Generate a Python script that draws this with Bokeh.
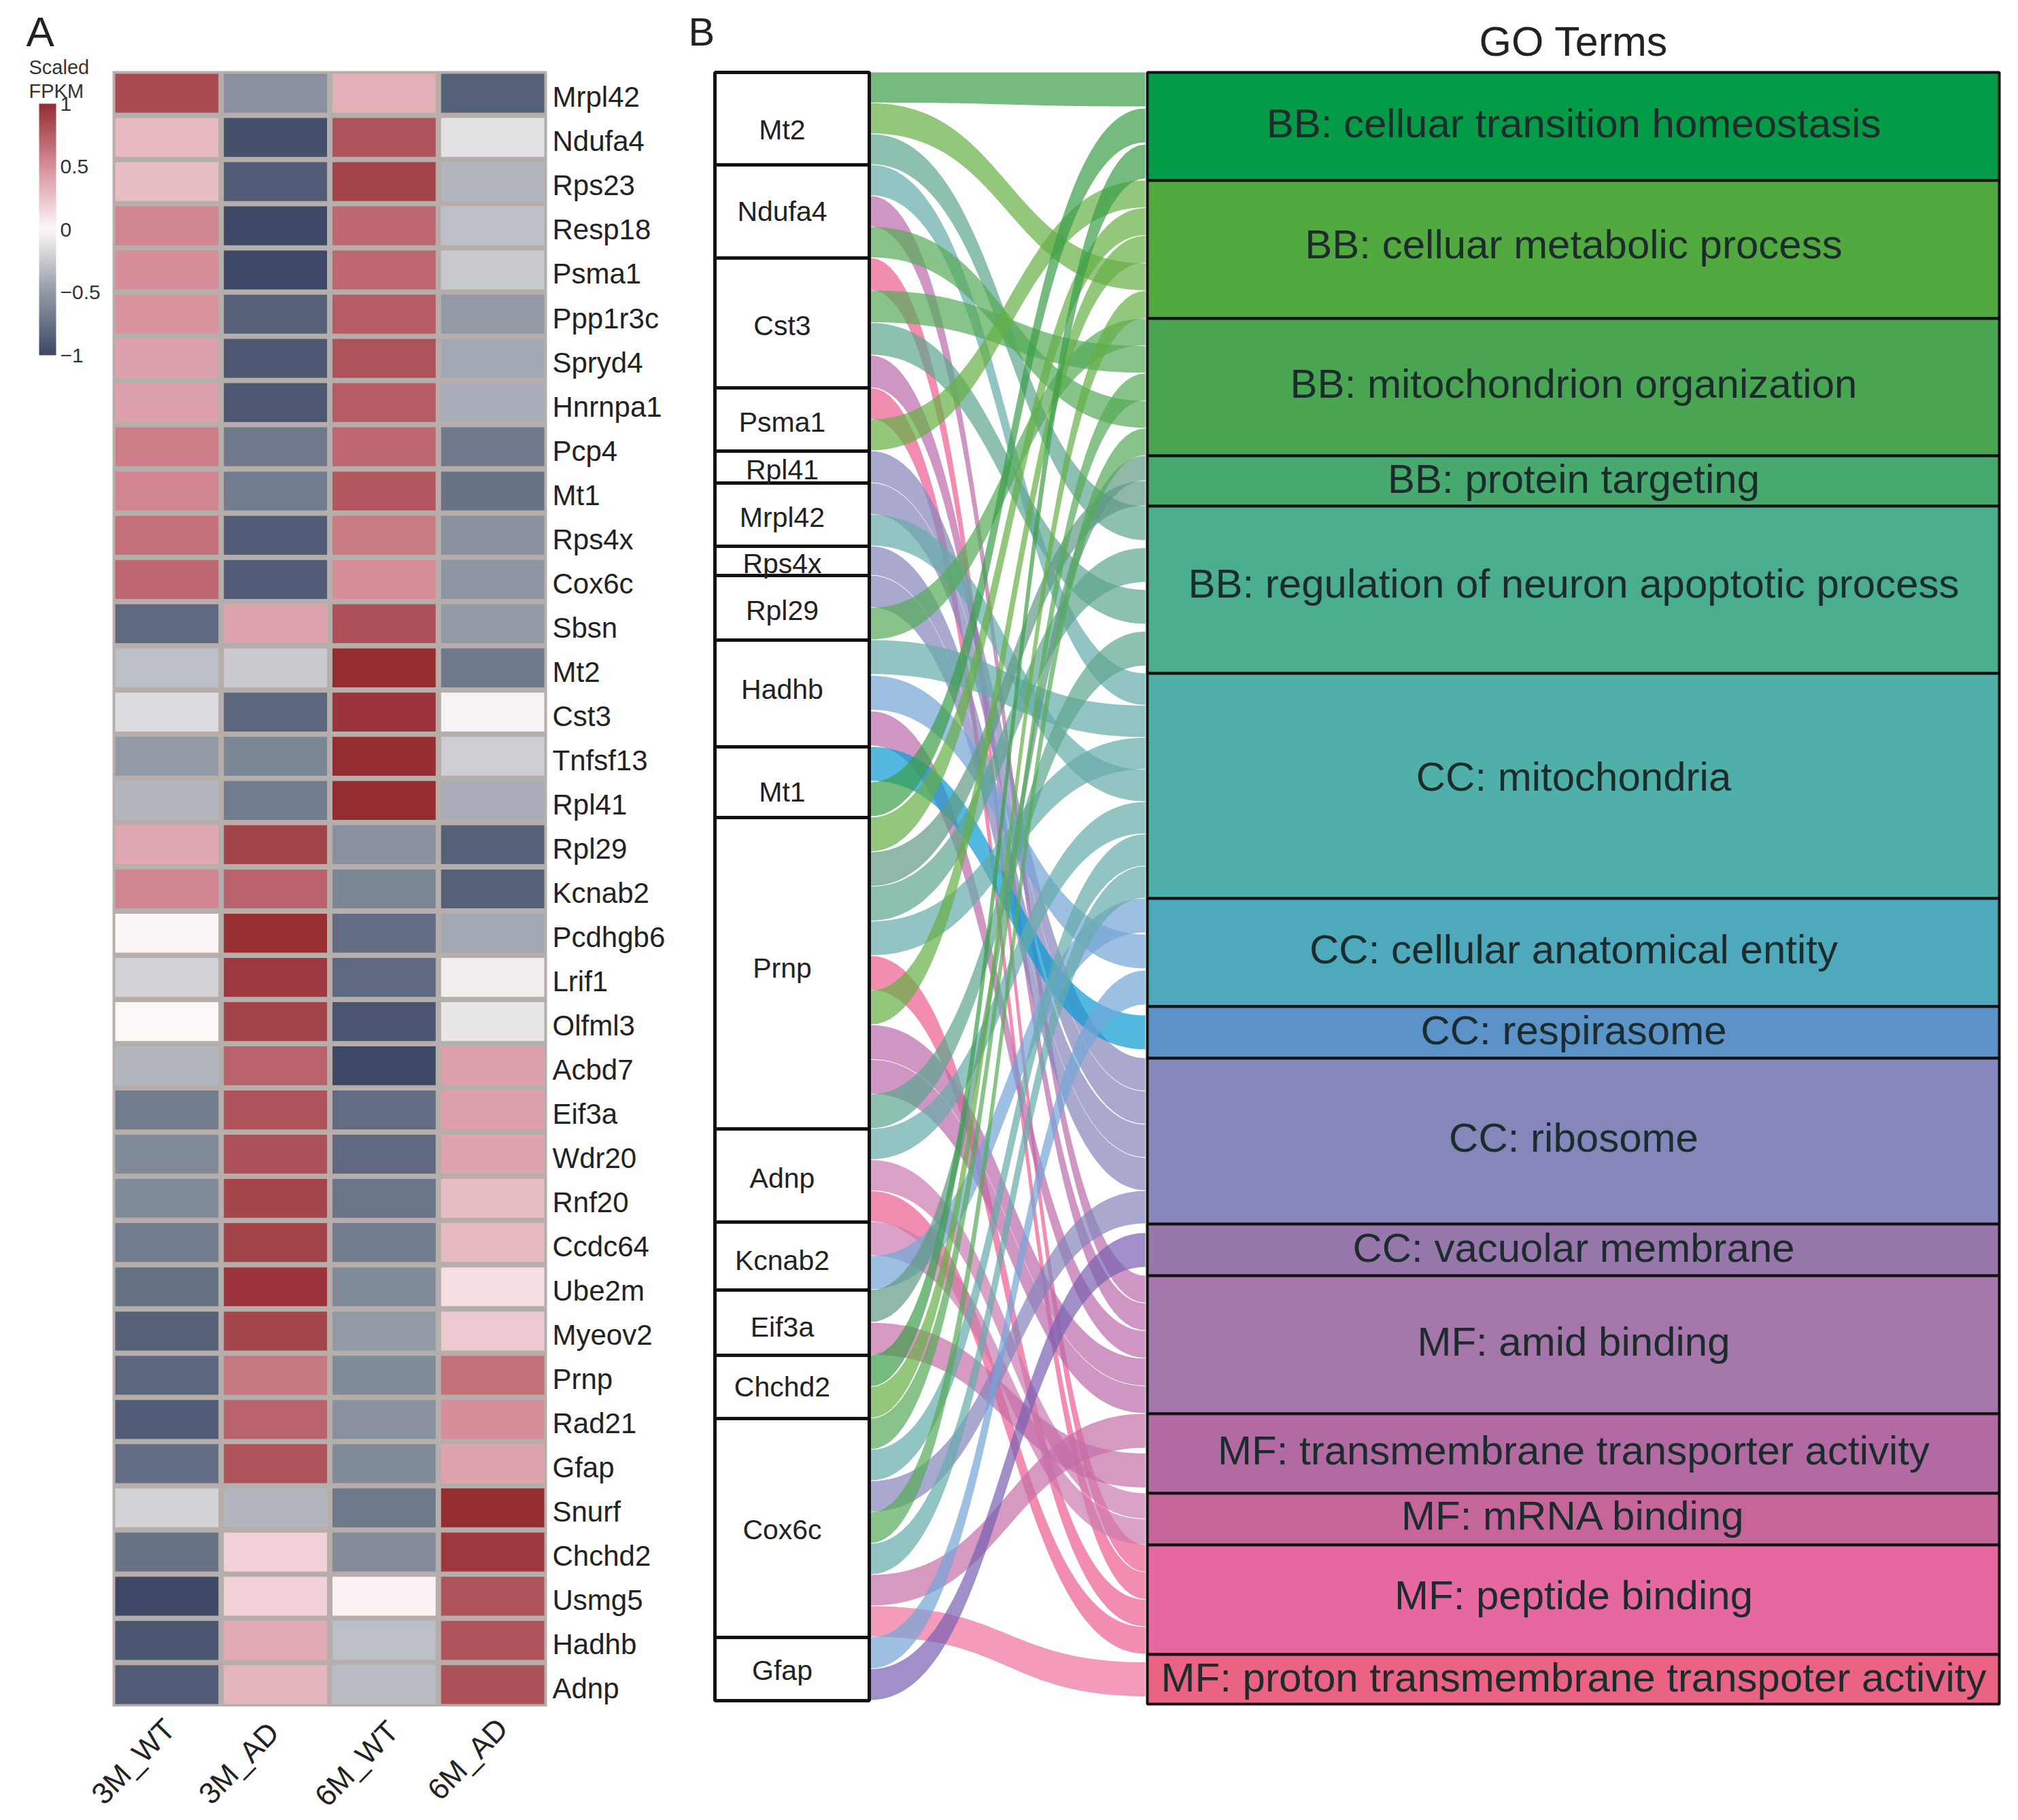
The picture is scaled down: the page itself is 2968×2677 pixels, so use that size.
from bokeh.plotting import figure
from bokeh.models import ColumnDataSource, LinearColorMapper, ColorBar, FixedTicker, FactorRange, Range1d, LinearAxis
from bokeh.layouts import row, column
from bokeh.embed import file_html
from bokeh.resources import INLINE
from bokeh.core.properties import value
import numpy as np

FONT = "Liberation Sans"

# ---------- heatmap data ----------
samples = ["3M_WT", "3M_AD", "6M_WT", "6M_AD"]
heat_genes = ["Mrpl42","Ndufa4","Rps23","Resp18","Psma1","Ppp1r3c","Spryd4","Hnrnpa1","Pcp4","Mt1","Rps4x","Cox6c",
              "Sbsn","Mt2","Cst3","Tnfsf13","Rpl41","Rpl29","Kcnab2","Pcdhgb6","Lrif1","Olfml3","Acbd7","Eif3a",
              "Wdr20","Rnf20","Ccdc64","Ube2m","Myeov2","Prnp","Rad21","Gfap","Snurf","Chchd2","Usmg5","Hadhb","Adnp"]
wt3 = [.85,.30,.28,.55,.50,.48,.42,.42,.58,.55,.65,.70,-.80,-.30,-.15,-.50,-.35,.38,.55,.01,-.20,0.0,-.35,-.68,
       -.60,-.60,-.68,-.76,-.85,-.82,-.88,-.78,-.20,-.74,-1.0,-.92,-.88]
ad3 = [-.55,-.95,-.88,-1.0,-1.0,-.85,-.90,-.90,-.70,-.68,-.88,-.88,.40,-.25,-.82,-.62,-.68,.88,.72,.97,.93,.88,.72,.80,
       .82,.87,.88,.95,.87,.62,.72,.80,-.35,.18,.18,.36,.32]
wt6 = [.35,.80,.88,.70,.70,.75,.80,.75,.70,.78,.60,.50,.82,1.0,.95,1.0,1.0,-.55,-.62,-.78,-.80,-.92,-1.0,-.78,
       -.80,-.72,-.68,-.60,-.50,-.60,-.55,-.60,-.70,-.58,.03,-.30,-.32]
ad6 = [-.85,-.12,-.35,-.30,-.25,-.50,-.42,-.40,-.70,-.75,-.55,-.52,-.50,-.70,-.03,-.22,-.40,-.85,-.85,-.42,-.05,-.10,.42,.42,
       .40,.28,.30,.12,.22,.65,.50,.40,1.0,.93,.80,.80,.82]
legend_ticks = [-1, -0.5, 0, 0.5, 1]
ramp_stops = ["#3e4866", "#929aa6", "#fdf8f8", "#d88f9b", "#952c31"]

# ---------- sankey data ----------
genes = ["Mt2","Ndufa4","Cst3","Psma1","Rpl41","Mrpl42","Rps4x","Rpl29","Hadhb","Mt1","Prnp","Adnp","Kcnab2","Eif3a",
         "Chchd2","Cox6c","Gfap"]
gene_sizes = [136,137,191,93,47,93,43,95,157,104,458,137,100,96,93,322,93]
terms = ["BB: celluar transition homeostasis","BB: celluar metabolic process","BB: mitochondrion organization",
         "BB: protein targeting","BB: regulation of neuron apoptotic process","CC: mitochondria",
         "CC: cellular anatomical entity","CC: respirasome","CC: ribosome","CC: vacuolar membrane","MF: amid binding",
         "MF: transmembrane transporter activity","MF: mRNA binding","MF: peptide binding",
         "MF: proton transmembrane transpoter activity"]
term_keys = ["BB1","BB2","BB3","BB4","BB5","CC1","CC2","CC3","CC4","CC5","MF1","MF2","MF3","MF4","MF5"]
term_sizes = [159,203,202,74,246,331,159,76,244,76,203,117,76,161,73]
term_colors = ["#039a48","#52a93f","#4aa552","#47a96e","#4aad8e","#4fb0a9","#4fa9bc","#5b92c8","#8586ba","#9877ad",
               "#a576aa","#b26aa3","#c56599","#e768a0","#ea6384"]
band_colors = ["#3b9e4a","#65af44","#55ab58","#5f9a83","#5ca58e","#65abab","#73a5d6","#089ad3","#8484bc","#7860b1",
               "#ba69ab","#c46ea8","#ca7ab0","#ec5b8e","#ef719f"]
gene_links = {
    "Mt2": ["BB1","BB2","BB5"],
    "Ndufa4": ["CC1","MF1","BB3"],
    "Cst3": ["MF4","BB3","BB5","MF1"],
    "Psma1": ["MF4","BB2"],
    "Rpl41": ["CC4"],
    "Mrpl42": ["CC4","CC1"],
    "Rps4x": ["CC4"],
    "Rpl29": ["CC4","BB3"],
    "Hadhb": ["CC1","CC2","MF1"],
    "Mt1": ["CC3","BB1"],
    "Prnp": ["BB2","BB4","BB5","CC1","MF4","BB2","MF1","MF1","BB5"],
    "Adnp": ["CC1","MF3","MF4"],
    "Kcnab2": ["MF3","CC2"],
    "Eif3a": ["BB4","MF2"],
    "Chchd2": ["BB1","BB2"],
    "Cox6c": ["BB3","CC1","CC4","BB3","CC1","MF2","MF5"],
    "Gfap": ["CC2","CC5"],
}
term_links = {
    "BB1": ["Mt2","Mt1","Chchd2"],
    "BB2": ["Psma1","Prnp","Prnp","Mt2","Chchd2"],
    "BB3": ["Rpl29","Cst3","Cox6c","Ndufa4","Cox6c"],
    "BB4": ["Eif3a","Prnp"],
    "BB5": ["Mt2","Prnp","Cst3","Prnp"],
    "CC1": ["Ndufa4","Hadhb","Prnp","Mrpl42","Adnp","Cox6c","Cox6c"],
    "CC2": ["Kcnab2","Hadhb","Gfap"],
    "CC3": ["Mt1"],
    "CC4": ["Rpl41","Mrpl42","Rps4x","Rpl29","Cox6c"],
    "CC5": ["Gfap"],
    "MF1": ["Ndufa4","Cst3","Hadhb","Prnp","Prnp"],
    "MF2": ["Cox6c","Eif3a"],
    "MF3": ["Adnp","Kcnab2"],
    "MF4": ["Cst3","Psma1","Prnp","Adnp"],
    "MF5": ["Cox6c"],
}

# ---------- colour ramp ----------
def hex2rgb(h):
    return np.array([int(h[i:i+2], 16) for i in (1, 3, 5)], float)
stops = np.array([hex2rgb(c) for c in ramp_stops])
pos = np.linspace(0, 1, len(stops))
palette = []
for t in np.linspace(0, 1, 256):
    c = [np.interp(t, pos, stops[:, k]) for k in range(3)]
    palette.append("#%02x%02x%02x" % tuple(int(round(v)) for v in c))
mapper = LinearColorMapper(palette=palette, low=-1, high=1)

PAGE_H = 2661
HEAT_BOTTOM = 2510

# ---------- legend strip ----------
p_leg = figure(width=165, height=HEAT_BOTTOM, x_range=Range1d(0, 165), y_range=Range1d(HEAT_BOTTOM, 0),
               output_backend="svg", toolbar_location=None, min_border=0)
p_leg.axis.visible = False
p_leg.grid.visible = False
p_leg.outline_line_color = None
p_leg.text(x=[38], y=[46], text=["A"], text_font=value(FONT), text_font_size="62px", text_color="#222222",
           text_align="left", text_baseline="middle")
p_leg.text(x=[42, 42], y=[98, 133], text=["Scaled", "FPKM"], text_font=value(FONT), text_font_size="29px",
           text_color="#333333", text_align="left", text_baseline="middle")
cb = ColorBar(color_mapper=mapper, ticker=FixedTicker(ticks=legend_ticks), width=25, height=370,
              location=(57, HEAT_BOTTOM - 522), major_tick_line_color=None, bar_line_color=None, padding=0, margin=0,
              major_label_text_font=FONT, major_label_text_font_size="30px", major_label_text_color="#333333",
              background_fill_alpha=0, border_line_color=None, label_standoff=6, minor_tick_line_color=None)
p_leg.add_layout(cb, "center")

# ---------- heatmap ----------
n_rows = len(heat_genes)
tick_pos = [n_rows - 0.5 - i for i in range(n_rows)]   # row centre of each gene, first gene on top
p_a = figure(width=835, height=HEAT_BOTTOM, x_range=FactorRange(*samples), y_range=Range1d(0, n_rows),
             output_backend="svg", toolbar_location=None, x_axis_location=None, y_axis_location=None,
             min_border_left=0, min_border_right=196, min_border_top=104, min_border_bottom=0)
p_a.background_fill_color = "#b5aeaa"
p_a.outline_line_color = None
p_a.grid.visible = False
xs_, ys_, vs_ = [], [], []
for col, series in zip(samples, [wt3, ad3, wt6, ad6]):
    for yy, v in zip(tick_pos, series):
        xs_.append(col); ys_.append(yy); vs_.append(v)
src = ColumnDataSource(dict(x=xs_, y=ys_, v=vs_))
p_a.rect(x="x", y="y", width=0.95, height=0.88, source=src, fill_color={"field": "v", "transform": mapper},
         line_color=None)
p_a.extra_y_ranges = {"labels": Range1d(0.09, n_rows + 0.09)}
ax = LinearAxis(y_range_name="labels", ticker=FixedTicker(ticks=tick_pos),
                major_label_overrides={k: g for k, g in zip(tick_pos, heat_genes)})
ax.axis_line_color = None
ax.major_tick_line_color = None
ax.minor_tick_line_color = None
ax.major_label_text_font = FONT
ax.major_label_text_color = "#222222"
ax.major_label_text_font_size = "42px"
ax.major_label_standoff = 2
p_a.add_layout(ax, "right")

# ---------- sample labels strip below the heatmap ----------
STRIP_W = 1000
STRIP_BOTTOM = 2672
p_x = figure(width=STRIP_W, height=STRIP_BOTTOM - HEAT_BOTTOM, x_range=Range1d(0, STRIP_W),
             y_range=Range1d(STRIP_BOTTOM, HEAT_BOTTOM), output_backend="svg", toolbar_location=None, min_border=0)
p_x.axis.visible = False
p_x.grid.visible = False
p_x.outline_line_color = None
col_w = 639 / len(samples)
label_x = [165 + col_w * (i + 0.5) + dx for i, dx in enumerate((4, -3, 13, 14))]
label_y = [HEAT_BOTTOM + d for d in (25, 30, 28, 24)]
p_x.text(x=label_x, y=label_y, text=samples, angle=0.8, text_font=value(FONT), text_font_size="44px",
         text_color="#222222", text_align="right", text_baseline="middle")

# ---------- sankey ----------
p_b = figure(width=1960, height=PAGE_H, x_range=Range1d(1000, 2960), y_range=Range1d(PAGE_H, 0),
             output_backend="svg", toolbar_location=None, min_border=0)
p_b.axis.visible = False
p_b.grid.visible = False
p_b.outline_line_color = None

TOP_L, TOP_R = 106, 106
NODE_L = (1051, 1278)
NODE_R = (1687, 2940)
BAND_CAP = 51

gene_tops = TOP_L + np.concatenate([[0], np.cumsum(gene_sizes)[:-1]])
term_tops = TOP_R + np.concatenate([[0], np.cumsum(term_sizes)[:-1]])

right_y = {}
for key, top, size in zip(term_keys, term_tops, term_sizes):
    members = term_links[key]
    pitch = size / len(members)
    thick = min(pitch, BAND_CAP) - 1
    off = (pitch - thick) / 2 if len(members) == 1 else 0
    seen = {}
    for i, g in enumerate(members):
        n = seen.get(g, 0)
        seen[g] = n + 1
        right_y[(key, g, n)] = (top + i * pitch + off, thick)

t = np.linspace(0, 1, 60)
x0, x1 = NODE_L[1] + 2, NODE_R[0] - 3
xm = (x0 + x1) / 2
bx = (1-t)**3*x0 + 3*(1-t)**2*t*xm + 3*(1-t)*t**2*xm + t**3*x1
s = 3*t**2 - 2*t**3
band_xs, band_ys, band_cs = [], [], []
for g, top, size in zip(genes, gene_tops, gene_sizes):
    links = gene_links[g]
    pitch = size / len(links)
    thick0 = min(pitch, BAND_CAP) - 1
    seen = {}
    for i, key in enumerate(links):
        n = seen.get(key, 0)
        seen[key] = n + 1
        y0 = top + i * pitch
        y1, thick1 = right_y[(key, g, n)]
        by = (1-t)**3*y0 + 3*(1-t)**2*t*y0 + 3*(1-t)*t**2*y1 + t**3*y1
        th = thick0 + (thick1 - thick0) * s
        band_xs.append(np.concatenate([bx, bx[::-1]]).tolist())
        band_ys.append(np.concatenate([by, (by + th)[::-1]]).tolist())
        band_cs.append(band_colors[term_keys.index(key)])
p_b.patches(band_xs, band_ys, fill_color=band_cs, fill_alpha=0.7, line_color=None)

p_b.quad(left=NODE_L[0], right=NODE_L[1], top=gene_tops, bottom=gene_tops + np.array(gene_sizes),
         fill_color="white", line_color="#111111", line_width=5)
p_b.quad(left=NODE_R[0], right=NODE_R[1], top=term_tops, bottom=term_tops + np.array(term_sizes),
         fill_color=term_colors, line_color="#111111", line_width=4)

gene_label_dy = np.array([16, 0, 4, 4, 4, 4, 4, 4, -6, 14, -8, 4, 6, 6, 0, 2, 2])
term_label_dy = np.array([-5, -8, -5, -3, -9, -14, -5, -3, -5, -3, -5, -5, -5, -7, -3])
p_b.text(x=[1150] * len(genes), y=gene_tops + np.array(gene_sizes) / 2 + gene_label_dy, text=genes,
         text_font=value(FONT), text_font_size="41px", text_color="#222222", text_align="center",
         text_baseline="middle")
p_b.text(x=[2314] * len(terms), y=term_tops + np.array(term_sizes) / 2 + term_label_dy, text=terms,
         text_font=value(FONT), text_font_size="60px", text_color="#1c2b2b", text_align="center",
         text_baseline="middle")
p_b.text(x=[2314], y=[60], text=["GO Terms"], text_font=value(FONT), text_font_size="61px", text_color="#222222",
         text_align="center", text_baseline="middle")
p_b.text(x=[1012], y=[46], text=["B"], text_font=value(FONT), text_font_size="58px", text_color="#222222",
         text_align="left", text_baseline="middle")

left_part = column(row(column(p_leg), column(p_a), spacing=0), column(p_x), spacing=0)
layout = row(left_part, column(p_b), spacing=0)
open("out.html", "w").write(file_html(layout, INLINE))
